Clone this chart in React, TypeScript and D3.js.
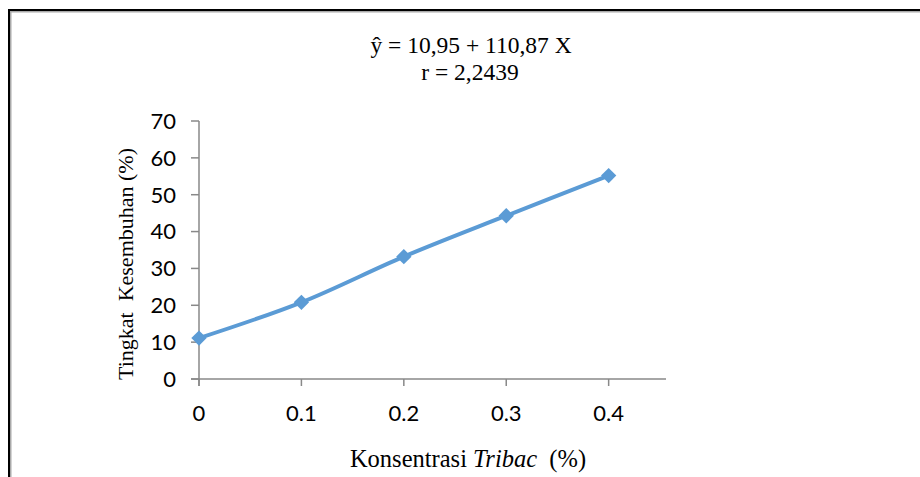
import React from 'react'
import * as d3 from 'd3'

const concentrations = [0, 0.1, 0.2, 0.3, 0.4]
const recovery = [11.1, 20.8, 33.2, 44.3, 55.2]
const yTicks = [0, 10, 20, 30, 40, 50, 60, 70]
const equation = 'ŷ = 10,95 + 110,87 X'
const rLabel = 'r = 2,2439'

const width = 920
const height = 477
const blue = '#5B9BD5'
const axisGrey = '#898989'

const x = d3.scaleLinear().domain([0, 0.456]).range([199, 666])
const y = d3.scaleLinear().domain([0, 70]).range([379, 121])

const lineFn = d3.line<number>()
  .x((_, i) => x(concentrations[i]))
  .y(d => y(d))
  .curve(d3.curveCatmullRom.alpha(0.5))

const diamond = d3.symbol().type(d3.symbolDiamond2).size(150)

export default function App() {
  return (
    <svg width={width} height={height} style={{ position: 'absolute', left: 0, top: 0 }}>
      <rect width={width} height={height} fill="#fff" />
      {/* frame */}
      <path d={`M9,${height} V10 H${width}`} fill="none" stroke="#aaa" strokeWidth={3} transform="translate(1,1)" />
      <path d={`M9,${height} V10 H${width}`} fill="none" stroke="#000" strokeWidth={2} />

      <g fontFamily="'Liberation Serif', serif" textAnchor="middle" fill="#000">
        <text x={471} y={53} fontSize={23.5}>{equation}</text>
        <text x={470} y={80} fontSize={23.5}>{rLabel}</text>
        <text transform="translate(133,264) rotate(-90)" fontSize={22}>Tingkat{'\u00a0\u00a0'}Kesembuhan (%)</text>
        <text x={468} y={467} fontSize={24.5}>
          Konsentrasi <tspan fontStyle="italic">Tribac</tspan>{'\u00a0\u00a0'}(%)
        </text>
      </g>

      {/* axes */}
      <g stroke={axisGrey} strokeWidth={1.5} fill="none">
        <line x1={x(0)} x2={x(0)} y1={y(70)} y2={y(0) + 7} />
        <line x1={191} x2={x.range()[1]} y1={y(0)} y2={y(0)} />
        {yTicks.map(t => (
          <line key={t} x1={191} x2={x(0)} y1={y(t)} y2={y(t)} />
        ))}
        {concentrations.map(c => (
          <line key={c} x1={x(c)} x2={x(c)} y1={y(0)} y2={y(0) + 7} />
        ))}
      </g>

      <g fontFamily="Lato, sans-serif" fontSize={22} fill="#000">
        {yTicks.map(t => (
          <text key={t} x={176} y={y(t)} dy="0.36em" textAnchor="end">{t}</text>
        ))}
        {concentrations.map(c => (
          <text key={c} x={x(c)} y={421} textAnchor="middle">{c === 0 ? '0' : c.toFixed(1)}</text>
        ))}
      </g>

      <path d={lineFn(recovery) ?? ''} fill="none" stroke={blue} strokeWidth={4} strokeLinejoin="round" />
      {recovery.map((v, i) => (
        <path key={i} d={diamond() ?? ''} transform={`translate(${x(concentrations[i])},${y(v)})`} fill={blue} />
      ))}
    </svg>
  )
}
